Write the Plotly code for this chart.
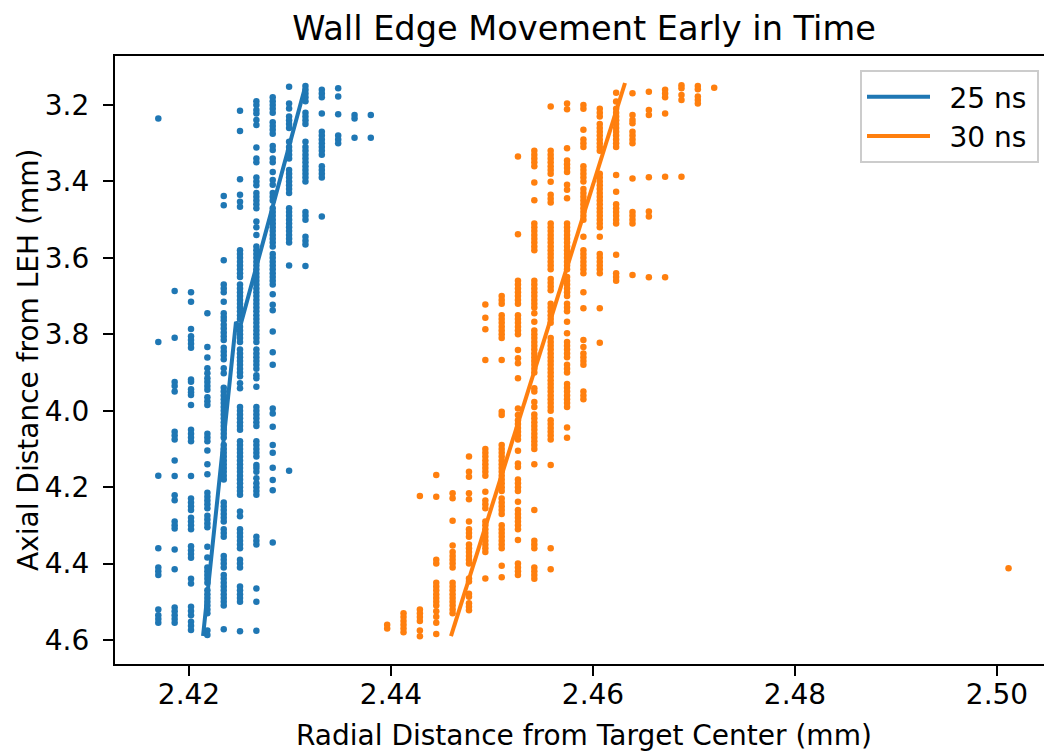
import plotly.graph_objects as go

# ---- 25 ns wall-edge samples: one x per column, y values in that column ----
blue_col_x = [2.41696, 2.41858, 2.42020, 2.42182, 2.42344, 2.42505, 2.42667,
              2.42829, 2.42991, 2.43153, 2.43315, 2.43477, 2.43639, 2.43800]
blue_col_y = [
    [3.235, 3.82, 4.17, 4.36, 4.41, 4.42, 4.43, 4.52, 4.535, 4.545, 4.555],
    [3.687, 3.809, 3.925, 3.935, 3.95, 4.055, 4.065, 4.075, 4.13, 4.171, 4.221, 4.234,
     4.29, 4.30, 4.308, 4.363, 4.415, 4.515, 4.525, 4.535, 4.545, 4.555],
    [3.690, 3.715, 3.786, 3.805, 3.815, 3.825, 3.835, 3.918, 3.924, 3.944, 3.952, 3.959,
     3.985, 4.05, 4.06, 4.07, 4.08, 4.171, 4.23, 4.24, 4.25, 4.26, 4.28, 4.29, 4.30, 4.31,
     4.355, 4.365, 4.375, 4.385, 4.44, 4.452, 4.513, 4.524, 4.535, 4.552, 4.563, 4.574],
    [3.745, 3.833, 3.861, 3.889, 3.902, 3.915, 3.925, 3.935, 3.945, 3.965, 3.975, 3.985,
     4.06, 4.07, 4.08, 4.104, 4.14, 4.166, 4.215, 4.225, 4.235, 4.245, 4.255, 4.275, 4.285,
     4.295, 4.305, 4.356, 4.384, 4.41, 4.42, 4.43, 4.44, 4.45, 4.47, 4.48, 4.49, 4.50, 4.51,
     4.52, 4.53, 4.575, 4.587],
    [3.438, 3.462, 3.606, 3.67, 3.68, 3.69, 3.715, 3.745, 3.755, 3.763, 3.775, 3.785, 3.795,
     3.805, 3.815, 3.835, 3.845, 3.855, 3.865, 3.889, 3.902, 3.94, 3.95, 3.96, 3.97, 3.98,
     3.99, 4.00, 4.01, 4.02, 4.03, 4.04, 4.05, 4.06, 4.07, 4.09, 4.10, 4.11, 4.12, 4.13, 4.14,
     4.15, 4.16, 4.17, 4.18, 4.24, 4.25, 4.26, 4.27, 4.28, 4.29, 4.31, 4.32, 4.33, 4.38, 4.39,
     4.40, 4.41, 4.43, 4.44, 4.45, 4.46, 4.47, 4.48, 4.49, 4.50, 4.51, 4.572],
    [3.215, 3.268, 3.394, 3.435, 3.453, 3.466, 3.58, 3.59, 3.60, 3.61, 3.62, 3.63, 3.64, 3.65,
     3.67, 3.68, 3.69, 3.70, 3.71, 3.72, 3.73, 3.74, 3.75, 3.76, 3.78, 3.79, 3.80, 3.81, 3.82,
     3.84, 3.85, 3.86, 3.87, 3.88, 3.89, 3.90, 3.91, 3.928, 3.941, 3.99, 4.00, 4.01, 4.02,
     4.03, 4.04, 4.05, 4.08, 4.09, 4.10, 4.11, 4.12, 4.13, 4.14, 4.15, 4.16, 4.17, 4.18, 4.19,
     4.20, 4.21, 4.22, 4.264, 4.276, 4.31, 4.32, 4.33, 4.34, 4.35, 4.36, 4.39, 4.40, 4.41,
     4.46, 4.47, 4.48, 4.49, 4.50, 4.577],
    [3.19, 3.20, 3.213, 3.222, 3.239, 3.252, 3.311, 3.34, 3.35, 3.39, 3.40, 3.41, 3.43, 3.44,
     3.45, 3.46, 3.47, 3.505, 3.52, 3.54, 3.57, 3.58, 3.59, 3.60, 3.61, 3.62, 3.63, 3.64,
     3.65, 3.66, 3.67, 3.68, 3.69, 3.70, 3.71, 3.72, 3.73, 3.74, 3.75, 3.76, 3.77, 3.78, 3.79,
     3.80, 3.81, 3.82, 3.84, 3.85, 3.86, 3.87, 3.88, 3.89, 3.907, 3.915, 3.937, 3.99, 4.00,
     4.01, 4.02, 4.03, 4.04, 4.08, 4.09, 4.10, 4.11, 4.12, 4.142, 4.15, 4.16, 4.177, 4.19,
     4.20, 4.21, 4.22, 4.33, 4.34, 4.35, 4.465, 4.50, 4.576],
    [3.18, 3.19, 3.20, 3.21, 3.22, 3.245, 3.255, 3.265, 3.275, 3.307, 3.318, 3.34, 3.35,
     3.375, 3.396, 3.409, 3.43, 3.44, 3.45, 3.47, 3.48, 3.49, 3.50, 3.51, 3.52, 3.53, 3.54,
     3.55, 3.56, 3.57, 3.59, 3.60, 3.61, 3.62, 3.63, 3.64, 3.65, 3.66, 3.67, 3.695, 3.723,
     3.737, 3.793, 3.847, 3.88, 3.994, 4.007, 4.042, 4.09, 4.11, 4.149, 4.181, 4.208, 4.345],
    [3.152, 3.196, 3.209, 3.23, 3.24, 3.25, 3.26, 3.296, 3.31, 3.32, 3.33, 3.34, 3.37, 3.38,
     3.39, 3.40, 3.41, 3.42, 3.43, 3.47, 3.48, 3.49, 3.50, 3.51, 3.52, 3.53, 3.54, 3.55, 3.56,
     3.62, 4.157],
    [3.15, 3.16, 3.17, 3.18, 3.19, 3.22, 3.23, 3.24, 3.25, 3.296, 3.31, 3.32, 3.33, 3.34,
     3.35, 3.36, 3.37, 3.38, 3.39, 3.40, 3.48, 3.49, 3.50, 3.545, 3.555, 3.565, 3.621],
    [3.16, 3.17, 3.18, 3.222, 3.27, 3.28, 3.29, 3.30, 3.31, 3.32, 3.33, 3.36, 3.37, 3.38,
     3.39, 3.492],
    [3.156, 3.178, 3.224, 3.28, 3.29, 3.30],
    [3.226, 3.235, 3.286],
    [3.226, 3.286],
]

# ---- 30 ns wall-edge samples ----
orange_col_x = [2.43962, 2.44124, 2.44286, 2.44448, 2.44610, 2.44772, 2.44934, 2.45096,
                2.45257, 2.45419, 2.45581, 2.45743, 2.45905, 2.46067, 2.46229, 2.46391,
                2.46553, 2.46714, 2.46876, 2.47038, 2.47200, 2.50114]
orange_col_y = [
    [4.56, 4.57],
    [4.53, 4.54, 4.55, 4.56, 4.57, 4.58],
    [4.223, 4.52, 4.53, 4.54, 4.55, 4.575, 4.59],
    [4.168, 4.225, 4.39, 4.40, 4.45, 4.46, 4.47, 4.48, 4.49, 4.50, 4.51, 4.525, 4.539,
     4.555, 4.584],
    [4.216, 4.229, 4.288, 4.353, 4.37, 4.38, 4.39, 4.40, 4.41, 4.45, 4.46, 4.47, 4.48, 4.49,
     4.50, 4.51, 4.52, 4.53],
    [4.12, 4.16, 4.173, 4.216, 4.232, 4.29, 4.31, 4.32, 4.33, 4.35, 4.36, 4.37, 4.38, 4.39,
     4.40, 4.439, 4.447, 4.479, 4.487, 4.504, 4.513, 4.522],
    [3.722, 3.757, 3.787, 3.867, 4.10, 4.11, 4.12, 4.13, 4.14, 4.15, 4.16, 4.17, 4.212,
     4.235, 4.245, 4.255, 4.29, 4.30, 4.31, 4.32, 4.33, 4.34, 4.35, 4.36, 4.37, 4.439],
    [3.70, 3.71, 3.72, 3.75, 3.76, 3.77, 3.78, 3.79, 3.80, 3.81, 3.867, 4.003, 4.011, 4.09,
     4.10, 4.11, 4.12, 4.13, 4.14, 4.15, 4.16, 4.17, 4.18, 4.19, 4.20, 4.21, 4.23, 4.24,
     4.25, 4.26, 4.27, 4.30, 4.31, 4.32, 4.33, 4.34, 4.35, 4.36, 4.406, 4.436],
    [3.335, 3.538, 3.66, 3.67, 3.68, 3.69, 3.70, 3.71, 3.72, 3.75, 3.76, 3.77, 3.78, 3.79,
     3.80, 3.841, 3.863, 3.876, 3.915, 3.994, 4.011, 4.025, 4.035, 4.045, 4.055, 4.065,
     4.075, 4.105, 4.138, 4.147, 4.18, 4.19, 4.20, 4.21, 4.238, 4.26, 4.27, 4.28, 4.29, 4.30,
     4.31, 4.338, 4.40, 4.41, 4.42, 4.43],
    [3.32, 3.33, 3.34, 3.35, 3.36, 3.403, 3.449, 3.51, 3.52, 3.53, 3.54, 3.55, 3.56, 3.57,
     3.58, 3.66, 3.67, 3.68, 3.69, 3.70, 3.71, 3.72, 3.73, 3.745, 3.767, 3.79, 3.80, 3.81,
     3.82, 3.83, 3.84, 3.85, 3.86, 3.87, 3.88, 3.89, 3.90, 3.941, 3.95, 3.977, 3.99, 4.01,
     4.02, 4.03, 4.04, 4.05, 4.06, 4.07, 4.08, 4.09, 4.10, 4.14, 4.26, 4.34, 4.35, 4.36,
     4.41, 4.42, 4.43, 4.44],
    [3.204, 3.32, 3.33, 3.34, 3.35, 3.36, 3.37, 3.38, 3.401, 3.435, 3.445, 3.455, 3.51,
     3.52, 3.53, 3.54, 3.55, 3.56, 3.57, 3.58, 3.59, 3.60, 3.61, 3.62, 3.63, 3.655, 3.665,
     3.675, 3.685, 3.72, 3.73, 3.74, 3.75, 3.76, 3.77, 3.81, 3.82, 3.83, 3.84, 3.85, 3.86,
     3.87, 3.88, 3.89, 3.90, 3.91, 3.92, 3.93, 3.94, 3.95, 3.96, 3.97, 3.98, 3.99, 4.00,
     4.025, 4.035, 4.045, 4.055, 4.065, 4.075, 4.142, 4.36, 4.415],
    [3.196, 3.211, 3.313, 3.345, 3.355, 3.365, 3.375, 3.409, 3.422, 3.444, 3.51, 3.52, 3.53,
     3.54, 3.55, 3.56, 3.57, 3.58, 3.59, 3.60, 3.61, 3.62, 3.63, 3.65, 3.66, 3.67, 3.68,
     3.69, 3.70, 3.72, 3.73, 3.74, 3.767, 3.797, 3.82, 3.83, 3.84, 3.85, 3.86, 3.88, 3.89,
     3.90, 3.93, 3.94, 3.95, 3.96, 3.97, 3.98, 3.99, 4.044, 4.071],
    [3.20, 3.21, 3.265, 3.29, 3.30, 3.31, 3.36, 3.37, 3.38, 3.39, 3.40, 3.42, 3.43, 3.44,
     3.45, 3.46, 3.47, 3.48, 3.49, 3.50, 3.545, 3.58, 3.59, 3.60, 3.61, 3.62, 3.63, 3.64,
     3.69, 3.732, 3.815, 3.833, 3.85, 3.86, 3.87, 3.88, 3.95, 3.96, 3.97],
    [3.21, 3.22, 3.23, 3.25, 3.26, 3.27, 3.28, 3.29, 3.30, 3.31, 3.32, 3.38, 3.39, 3.40,
     3.41, 3.42, 3.43, 3.44, 3.45, 3.46, 3.47, 3.48, 3.49, 3.50, 3.51, 3.52, 3.545, 3.59,
     3.60, 3.61, 3.62, 3.63, 3.64, 3.732, 3.822],
    [3.168, 3.191, 3.21, 3.22, 3.23, 3.24, 3.25, 3.26, 3.27, 3.28, 3.29, 3.30, 3.31, 3.383,
     3.427, 3.46, 3.47, 3.48, 3.49, 3.50, 3.51, 3.592, 3.64, 3.65, 3.66],
    [3.169, 3.226, 3.239, 3.248, 3.27, 3.28, 3.29, 3.30, 3.392, 3.48, 3.49, 3.50, 3.51,
     3.645],
    [3.165, 3.213, 3.226, 3.389, 3.479, 3.492, 3.651],
    [3.16, 3.17, 3.18, 3.222, 3.388, 3.651],
    [3.148, 3.156, 3.174, 3.187, 3.388],
    [3.15, 3.159, 3.178, 3.187, 3.196],
    [3.155],
    [4.412],
]

# ---- fitted edge lines ----
blue_fit_x = [2.42139, 2.42465, 2.42505, 2.43158]
blue_fit_y = [4.5897, 3.7679, 3.7810, 3.1450]
orange_fit_x = [2.44594, 2.46317]
orange_fit_y = [4.5897, 3.1424]

x_ticks = [2.42, 2.44, 2.46, 2.48, 2.50]
x_tick_text = ["2.42", "2.44", "2.46", "2.48", "2.50"]
y_ticks = [3.2, 3.4, 3.6, 3.8, 4.0, 4.2, 4.4, 4.6]
y_tick_text = ["3.2", "3.4", "3.6", "3.8", "4.0", "4.2", "4.4", "4.6"]
legend_names = ["25 ns", "30 ns"]

BLUE = "#1f77b4"
ORANGE = "#ff7f0e"
FONT = "DejaVu Sans"
LEAD = "\u00a0\u2009"   # spacing between legend line and label
TRAIL = "\u2009"


def flatten(cols_x, cols_y):
    xs, ys = [], []
    for cx, cy in zip(cols_x, cols_y):
        for v in cy:
            xs.append(cx)
            ys.append(v)
    return xs, ys


bx, by = flatten(blue_col_x, blue_col_y)
ox, oy = flatten(orange_col_x, orange_col_y)

fig = go.Figure()
fig.add_trace(go.Scatter(x=bx, y=by, mode="markers", showlegend=False,
                         marker=dict(color=BLUE, size=6.5, line=dict(width=0))))
fig.add_trace(go.Scatter(x=ox, y=oy, mode="markers", showlegend=False,
                         marker=dict(color=ORANGE, size=6.5, line=dict(width=0))))
fig.add_trace(go.Scatter(x=blue_fit_x, y=blue_fit_y, mode="lines",
                         name=LEAD + legend_names[0] + TRAIL,
                         line=dict(color=BLUE, width=4)))
fig.add_trace(go.Scatter(x=orange_fit_x, y=orange_fit_y, mode="lines",
                         name=LEAD + legend_names[1] + TRAIL,
                         line=dict(color=ORANGE, width=4)))

L, T, B = 115, 56, 87
W, H = 1044, 751
pw, ph = W - L, H - T - B

fig.update_layout(
    width=W, height=H,
    margin=dict(l=L, r=0, t=T, b=B, pad=0),
    plot_bgcolor="white", paper_bgcolor="white",
    font=dict(family=FONT, size=28, color="black"),
    title=dict(text="Wall Edge Movement Early in Time",
               font=dict(family=FONT, size=33.6, color="black"),
               x=584 / W, xref="container", xanchor="center",
               y=1 - 28 / H, yref="container", yanchor="middle"),
    xaxis=dict(range=[2.412673, 2.504653], tickvals=x_ticks, ticktext=x_tick_text,
               ticks="outside", ticklen=10, tickwidth=2.2, tickcolor="black",
               showline=True, linewidth=2.2, linecolor="black", mirror=True,
               showgrid=False, zeroline=False, ticklabelstandoff=-6,
               tickfont=dict(family=FONT, size=28, color="black")),
    yaxis=dict(range=[4.66281, 3.07176], tickvals=y_ticks, ticktext=y_tick_text,
               ticks="outside", ticklen=10, tickwidth=2.2, tickcolor="black",
               showline=True, linewidth=2.2, linecolor="black", mirror=False,
               showgrid=False, zeroline=False, ticklabelstandoff=8,
               tickfont=dict(family=FONT, size=28, color="black")),
    legend=dict(x=(1039 - L) / pw, xanchor="right", y=(H - B - 70) / ph, yanchor="top",
                bgcolor="white", bordercolor="#cccccc", borderwidth=2,
                font=dict(family=FONT, size=28, color="black"), itemwidth=63,
                tracegroupgap=0),
    annotations=[
        dict(text="Radial Distance from Target Center (mm)", xref="paper", yref="paper",
             x=(584 - L) / pw, y=-(735 - (H - B)) / ph, xanchor="center", yanchor="middle",
             showarrow=False, font=dict(family=FONT, size=28, color="black")),
        dict(text="Axial Distance from LEH (mm)", xref="paper", yref="paper",
             x=(28 - L) / pw, y=0.5, xanchor="center", yanchor="middle", textangle=-90,
             showarrow=False, font=dict(family=FONT, size=28, color="black")),
    ],
)

fig.write_html("out.html")
